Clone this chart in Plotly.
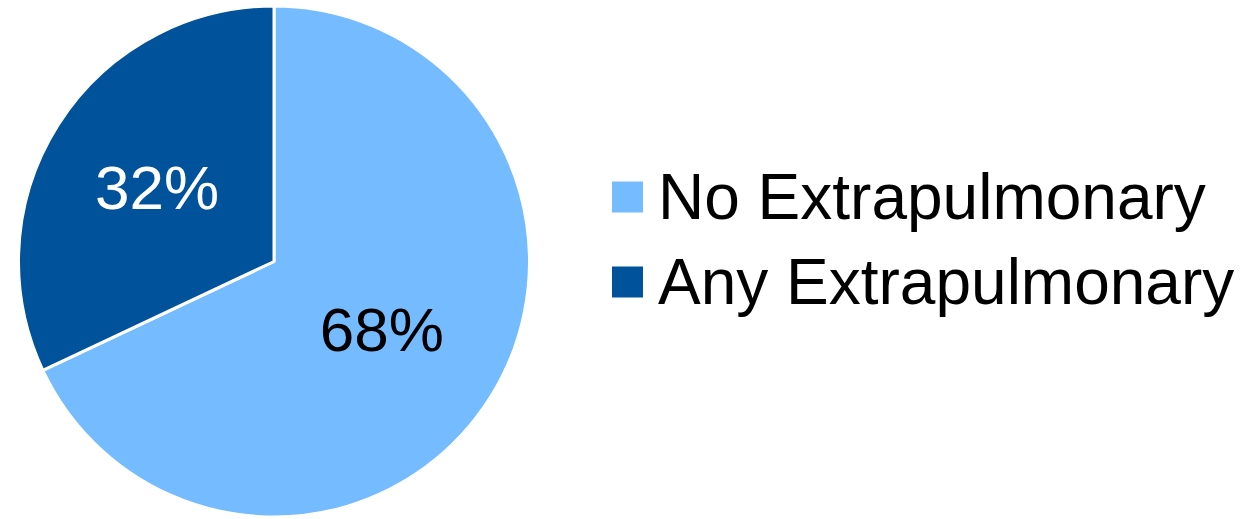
import plotly.graph_objects as go

labels = ["No Extrapulmonary", "Any Extrapulmonary"]
values = [68, 32]
colors = ["#75BBFF", "#00529B"]
text_colors = ["#000000", "#FFFFFF"]

W, H = 1254, 519
FONT = "Liberation Sans, Arial, sans-serif"

fig = go.Figure(go.Pie(
    labels=labels,
    values=values,
    sort=False,
    direction="clockwise",
    rotation=0,
    marker=dict(colors=colors, line=dict(color="#FFFFFF", width=3)),
    texttemplate="%{percent:.0%}",
    textposition="inside",
    insidetextorientation="horizontal",
    insidetextfont=dict(family=FONT, size=62, color=text_colors),
    domain=dict(x=[18 / W, 530 / W], y=[2 / H, 513 / H]),
    showlegend=False,
    hoverinfo="label+percent",
))

# Legend drawn as large swatches + text (matching the reference's big squares)
leg_x_sq = 612
sq = 31
leg_y_centers = [197, 282]
leg_x_text = 656
for lab, col, yc in zip(labels, colors, leg_y_centers):
    fig.add_shape(
        type="rect", xref="paper", yref="paper",
        x0=leg_x_sq / W, x1=(leg_x_sq + sq) / W,
        y0=1 - (yc + sq / 2) / H, y1=1 - (yc - sq / 2) / H,
        fillcolor=col, line=dict(width=0),
    )
    fig.add_annotation(
        xref="paper", yref="paper",
        x=leg_x_text / W, y=1 - yc / H,
        xanchor="left", yanchor="middle",
        text=lab, showarrow=False,
        font=dict(family=FONT, size=64, color="#000000"),
    )

fig.update_layout(
    width=W, height=H,
    margin=dict(l=0, r=0, t=0, b=0),
    paper_bgcolor="#FFFFFF",
    plot_bgcolor="#FFFFFF",
    font=dict(family=FONT, color="#000000"),
)

fig.write_html("out.html")
